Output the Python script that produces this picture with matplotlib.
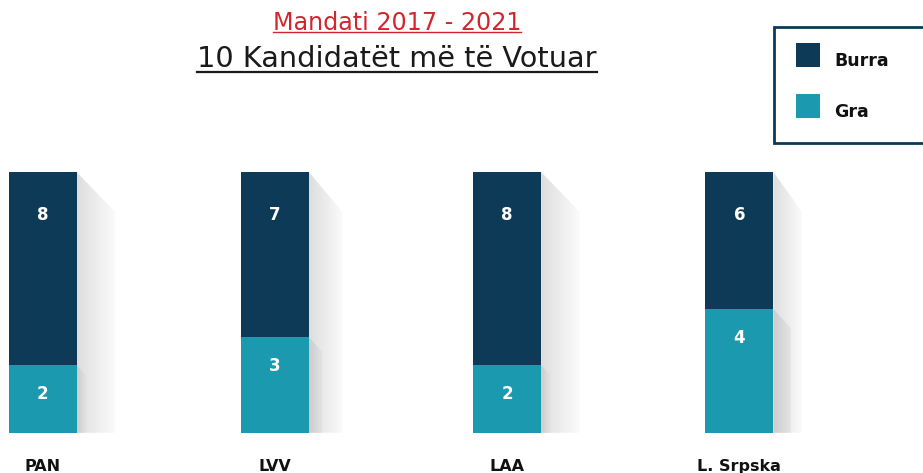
import numpy as np
import matplotlib
matplotlib.use("Agg")
import matplotlib.pyplot as plt
import matplotlib.patches as mpatches
from matplotlib.colors import LinearSegmentedColormap

# --- data ---
parties = ["PAN", "LVV", "LAA", "L. Srpska"]
burra = [8, 7, 8, 6]
gra = [2, 3, 2, 4]
title_top = "Mandati 2017 - 2021"
title_main = "10 Kandidatët më të Votuar"
legend_labels = ["Burra", "Gra"]

C_BURRA = "#0d3a56"
C_GRA = "#1b99ae"
C_RED = "#d0262d"

W, H = 923, 473
fig = plt.figure(figsize=(W / 100, H / 100), dpi=100)

# plot area (pixel geometry of the reference)
ax_bottom_px, ax_top_px = 432.7, 172
ax = fig.add_axes([0, 1 - ax_bottom_px / H, 1, (ax_bottom_px - ax_top_px) / H])
ax.set_facecolor("none")
step_px, first_px = 232.3, 42.5
ax.set_xlim(-first_px / step_px, (W - first_px) / step_px)
y0, y1 = -0.42, 8.9
ax.set_ylim(y0, y1)
for s in ax.spines.values():
    s.set_visible(False)
ax.set_yticks([])

x = np.arange(len(parties))
bw = 68 / step_px
px_x = 1 / step_px                       # one pixel in data x
px_y = (y1 - y0) / (ax_bottom_px - ax_top_px)  # one pixel in data y

cm_b = LinearSegmentedColormap.from_list("sb", ["#dedede", "#fbfbfb"])
cm_g = LinearSegmentedColormap.from_list("sg", ["#cccccc", "#e4e4e4"])


def shadow(xr, top, bottom, w_px, dy_px, cmap, z):
    w = w_px * px_x
    dy = dy_px * px_y
    poly = mpatches.Polygon([(xr, top), (xr + w, top - dy), (xr + w, bottom), (xr, bottom)],
                            closed=True, facecolor="none", edgecolor="none")
    ax.add_patch(poly)
    grad = np.linspace(0, 1, 64).reshape(1, -1)
    im = ax.imshow(grad, cmap=cmap, extent=(xr, xr + w, bottom, top), aspect="auto",
                   origin="lower", zorder=z, interpolation="bilinear")
    im.set_clip_path(poly)


for i in range(len(parties)):
    xr = x[i] + bw / 2
    top_vis = min(burra[i] + gra[i], y1)
    h_b = (top_vis - gra[i]) / px_y
    h_g = (gra[i] - y0) / px_y
    shadow(xr, top_vis, y0, 0.18 * h_b + 4, 40, cm_b, 1)
    shadow(xr, gra[i], y0, 0.14 * h_g, 0.14 * h_g * 1.1, cm_g, 2)

ax.bar(x, np.array(gra) - y0, bottom=y0, width=bw, color=C_GRA, zorder=3)
ax.bar(x, burra, bottom=gra, width=bw, color=C_BURRA, zorder=3)

for i in range(len(parties)):
    top_vis = min(burra[i] + gra[i], y1)
    ax.annotate(str(burra[i]), (x[i], top_vis), xytext=(0, -43), textcoords="offset pixels",
                ha="center", va="center", color="white", fontsize=12, fontweight="bold", zorder=4)
    ax.annotate(str(gra[i]), (x[i], gra[i]), xytext=(0, -29), textcoords="offset pixels",
                ha="center", va="center", color="white", fontsize=12, fontweight="bold", zorder=4)

ax.set_xticks(x)
ax.set_xticklabels(parties, fontsize=11.5, fontweight="bold", color="#111111")
ax.tick_params(axis="x", length=0, pad=19)

# titles with underline
renderer = fig.canvas.get_renderer()


def underlined(txt, cx, base_px, size, color, ul_px, lw):
    t = fig.text(cx / W, 1 - base_px / H, txt, ha="center", va="baseline",
                 fontsize=size, color=color, family="DejaVu Sans", fontweight="normal")
    bb = t.get_window_extent(renderer=renderer)
    yl = 1 - ul_px / H
    fig.add_artist(plt.Line2D([bb.x0 / W, bb.x1 / W], [yl, yl], color=color, lw=lw,
                              transform=fig.transFigure))


underlined(title_top, 397, 29.5, 17.2, C_RED, 32.5, 1.0)
underlined(title_main, 397, 67, 20.7, "#1a1a1a", 71.5, 1.6)

# legend box
box = mpatches.Rectangle((774 / W, 1 - 143 / H), 160 / W, 116 / H, transform=fig.transFigure,
                         facecolor="white", edgecolor=C_BURRA, lw=2)
fig.add_artist(box)
for j, (lab, col) in enumerate(zip(legend_labels, [C_BURRA, C_GRA])):
    cy = 55 + j * 51
    fig.add_artist(mpatches.Rectangle((796 / W, 1 - (cy + 12) / H), 24 / W, 24 / H,
                                      transform=fig.transFigure, facecolor=col, edgecolor="none"))
    fig.text(834 / W, 1 - (cy + 6) / H, lab, ha="left", va="center", fontsize=12.5,
             fontweight="bold", color="#111111")

fig.savefig("out.png", dpi=100)
